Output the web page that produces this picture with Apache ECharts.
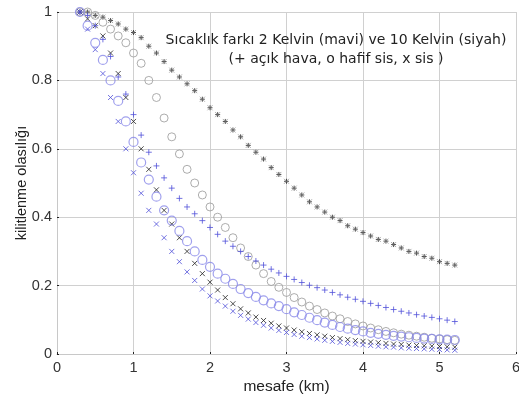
<!DOCTYPE html>
<html>
<head>
<meta charset="utf-8">
<script src="https://cdn.jsdelivr.net/npm/echarts@6/dist/echarts.min.js"></script>
<style>
  html, body { margin: 0; padding: 0; background: #fff; }
  #chart { width: 519px; height: 403px; }
</style>
</head>
<body>
<div id="chart"></div>
<script>
// mesafe (km)
const distances = [0.3, 0.4, 0.5, 0.6, 0.7, 0.8, 0.9, 1.0, 1.1, 1.2, 1.3, 1.4, 1.5, 1.6, 1.7, 1.8, 1.9, 2.0, 2.1, 2.2,
  2.3, 2.4, 2.5, 2.6, 2.7, 2.8, 2.9, 3.0, 3.1, 3.2, 3.3, 3.4, 3.5, 3.6, 3.7, 3.8, 3.9, 4.0, 4.1, 4.2,
  4.3, 4.4, 4.5, 4.6, 4.7, 4.8, 4.9, 5.0, 5.1, 5.2];

// 10 Kelvin (siyah)
const black_clear = [1.0, 1.0, 0.99, 0.985, 0.975, 0.965, 0.95, 0.94, 0.925, 0.90, 0.88, 0.855, 0.83, 0.81, 0.79, 0.77, 0.745, 0.72, 0.70, 0.68,
  0.655, 0.635, 0.61, 0.59, 0.57, 0.545, 0.525, 0.505, 0.485, 0.465, 0.445, 0.43, 0.415, 0.40, 0.39, 0.375, 0.365, 0.355, 0.345, 0.335,
  0.33, 0.32, 0.31, 0.30, 0.295, 0.285, 0.28, 0.27, 0.265, 0.26];
const black_lightfog = [1.0, 1.0, 0.99, 0.97, 0.95, 0.93, 0.91, 0.88, 0.85, 0.80, 0.75, 0.69, 0.635, 0.585, 0.54, 0.50, 0.465, 0.43, 0.40, 0.37,
  0.34, 0.31, 0.285, 0.26, 0.235, 0.212, 0.195, 0.18, 0.165, 0.152, 0.14, 0.13, 0.12, 0.111, 0.103, 0.095, 0.088, 0.082, 0.076, 0.071,
  0.066, 0.062, 0.058, 0.055, 0.052, 0.049, 0.046, 0.044, 0.042, 0.04];
const black_fog = [1.0, 0.98, 0.96, 0.93, 0.88, 0.82, 0.75, 0.68, 0.60, 0.54, 0.48, 0.42, 0.38, 0.34, 0.30, 0.265, 0.235, 0.21, 0.187, 0.165,
  0.147, 0.132, 0.12, 0.108, 0.098, 0.09, 0.082, 0.076, 0.07, 0.065, 0.06, 0.056, 0.052, 0.048, 0.045, 0.042, 0.039, 0.037, 0.035, 0.033,
  0.031, 0.029, 0.028, 0.026, 0.025, 0.024, 0.023, 0.022, 0.021, 0.02];

// 2 Kelvin (mavi)
const blue_clear = [1.0, 0.99, 0.96, 0.92, 0.87, 0.81, 0.76, 0.70, 0.64, 0.59, 0.55, 0.515, 0.485, 0.455, 0.43, 0.41, 0.39, 0.37, 0.35, 0.33,
  0.315, 0.30, 0.285, 0.272, 0.26, 0.248, 0.237, 0.227, 0.218, 0.209, 0.201, 0.194, 0.187, 0.18, 0.173, 0.166, 0.16, 0.154, 0.148, 0.142,
  0.136, 0.13, 0.125, 0.12, 0.115, 0.111, 0.107, 0.103, 0.099, 0.095];
const blue_lightfog = [1.0, 0.96, 0.91, 0.86, 0.80, 0.74, 0.68, 0.62, 0.56, 0.51, 0.46, 0.42, 0.39, 0.36, 0.33, 0.30, 0.275, 0.255, 0.235, 0.22,
  0.205, 0.19, 0.178, 0.167, 0.157, 0.148, 0.14, 0.131, 0.122, 0.114, 0.106, 0.099, 0.092, 0.085, 0.079, 0.074, 0.07, 0.066, 0.062, 0.059,
  0.056, 0.053, 0.051, 0.049, 0.047, 0.045, 0.044, 0.043, 0.042, 0.041];
const blue_fog = [1.0, 0.95, 0.89, 0.82, 0.75, 0.68, 0.60, 0.53, 0.47, 0.42, 0.38, 0.34, 0.30, 0.27, 0.24, 0.215, 0.19, 0.17, 0.155, 0.14,
  0.125, 0.113, 0.102, 0.092, 0.084, 0.076, 0.069, 0.063, 0.057, 0.052, 0.048, 0.044, 0.040, 0.037, 0.034, 0.031, 0.029, 0.027, 0.025, 0.023,
  0.021, 0.020, 0.018, 0.017, 0.016, 0.015, 0.014, 0.013, 0.012, 0.011];

const xTicks = [0, 1, 2, 3, 4, 5, 6];
const yTicks = [0, 0.2, 0.4, 0.6, 0.8, 1];

const plusPath = 'path://M0,5L10,5M5,0L5,10';
const crossPath = 'path://M0,0L10,10M10,0L0,10';

function pts(vals) {
  return distances.map((d, i) => [d, vals[i]]);
}

function markers(name, vals, symbol, size, color, width) {
  return {
    name: name,
    type: 'scatter',
    data: pts(vals),
    symbol: symbol,
    symbolSize: size,
    silent: true,
    itemStyle: {
      color: 'transparent',
      borderColor: color,
      borderWidth: width
    }
  };
}

const chart = echarts.init(document.getElementById('chart'));
const option = {
  backgroundColor: '#fff',
  animation: false,
  textStyle: { fontFamily: 'Liberation Sans, Arial, sans-serif' },
  title: {
    text: 'Sıcaklık farkı 2 Kelvin (mavi) ve 10 Kelvin (siyah)\n(+ açık hava, o hafif sis, x sis )',
    left: 331,
    top: 26,
    textAlign: 'center',
    textStyle: {
      fontSize: 14,
      fontWeight: 'normal',
      color: '#222',
      lineHeight: 19,
      fontFamily: 'DejaVu Sans, sans-serif'
    }
  },
  grid: { left: 57, right: 3, top: 12, bottom: 49, outerBoundsMode: 'none' },
  xAxis: {
    type: 'value',
    min: 0, max: 6, interval: 1,
    name: 'mesafe (km)',
    nameLocation: 'middle',
    nameGap: 25,
    nameMoveOverlap: false,
    nameTextStyle: { fontSize: 15.5, color: '#222' },
    axisLine: { lineStyle: { color: '#c8c8c8' } },
    axisTick: { inside: true, length: 2, lineStyle: { color: '#222' } },
    axisLabel: { fontSize: 14.5, color: '#333', margin: 6,
      formatter: v => xTicks.includes(v) ? String(v) : '' },
    splitLine: { show: true, lineStyle: { color: '#d0d0d0', width: 1 } }
  },
  yAxis: {
    type: 'value',
    min: 0, max: 1, interval: 0.2,
    name: 'kilitlenme olasılığı',
    nameLocation: 'middle',
    nameGap: 28,
    nameMoveOverlap: false,
    nameTextStyle: { fontSize: 14.5, color: '#222' },
    axisLine: { show: true, lineStyle: { color: '#c8c8c8' } },
    axisTick: { show: true, inside: true, length: 2, lineStyle: { color: '#222' } },
    axisLabel: { fontSize: 14.5, color: '#333', margin: 5,
      formatter: v => yTicks.some(t => Math.abs(t - v) < 1e-9) ? String(+v.toFixed(1)) : '' },
    splitLine: { show: true, lineStyle: { color: '#d0d0d0', width: 1 } }
  },
  series: [
    markers('10K açık hava', black_clear, plusPath, 5, '#222', 1),
    markers('10K açık hava x', black_clear, crossPath, 5, '#777', 0.8),
    markers('10K hafif sis', black_lightfog, 'circle', 8, '#999', 1),
    markers('10K sis', black_fog, crossPath, 5, '#222', 1),
    markers('2K açık hava', blue_clear, plusPath, 6, '#5050da', 1),
    markers('2K hafif sis', blue_lightfog, 'circle', 9, '#8888e8', 1.2),
    markers('2K sis', blue_fog, crossPath, 5, '#5050da', 1)
  ]
};
chart.setOption(option);
</script>
</body>
</html>
